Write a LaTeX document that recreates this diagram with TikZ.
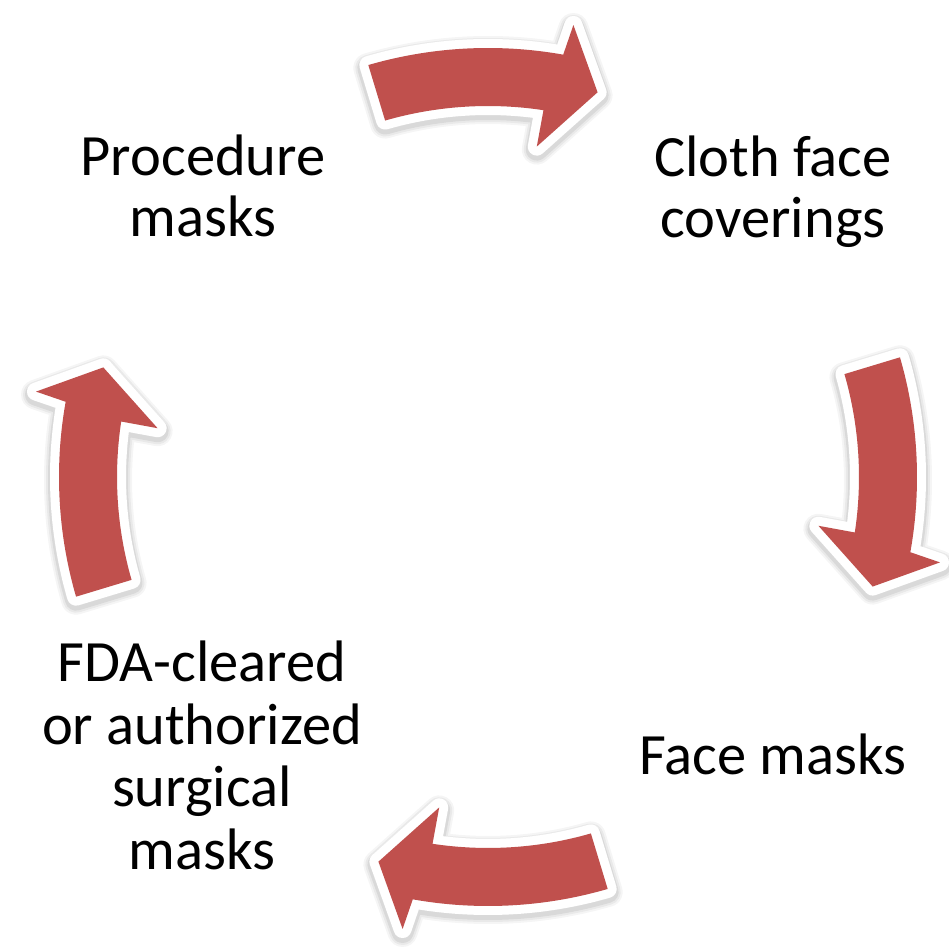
\documentclass[tikz,border=0pt]{standalone}
\usepackage{fontspec}
\setmainfont{Carlito}
\definecolor{arrowred}{HTML}{C0504D}
% centred lines with a given baseline distance; the box's baseline is the first line's
\newcommand\stacklines[2][61pt]{\vtop{\baselineskip=#1\lineskiplimit=0pt
  \halign{\hfil##\hfil\cr#2\crcr}}}
\tikzset{
  % one curved arrow of the cycle, in polar coordinates about the centre
  arrowshape/.style={insert path={
    (106.2:429) arc[start angle=106.2, end angle=79.9, radius=429]
    -- (79.3:460) -- (74.1:400) -- (81.6:334) -- (81.4:371)
    arc[start angle=81.4, end angle=106.1, radius=371] -- cycle}},
  arrowshadow/.style={draw=black, line join=round},
  arrowrim/.style={draw=white, line width=18, line join=round},
  arrowbody/.style={fill=arrowred},
  cyclelabel/.style={font=\fontsize{58.5}{61}\selectfont, anchor=base,
    inner sep=0, text=black},
}
\begin{document}
\begin{tikzpicture}[x=1pt, y=1pt]
\useasboundingbox (0,0) rectangle (949,950);
\coordinate (c) at (488,473);

% four arrows, each a quarter turn clockwise from the last
\foreach \r in {0,-90,-180,-270} {
  \begin{scope}[shift={(c)}, yshift=-3, rotate=\r]
    \foreach \w/\o in {30/0.04, 26/0.05, 22/0.07}
      \path[arrowshadow, line width=\w, opacity=\o, arrowshape];
  \end{scope}
  \begin{scope}[shift={(c)}, rotate=\r]
    \path[arrowrim, arrowshape];
    \path[arrowbody, arrowshape];
  \end{scope}
}

% labels between the arrows
\node[cyclelabel] (proc) at (203,774) {\stacklines{Procedure\cr masks}};
\node[cyclelabel] (cloth) at (773,773) {\stacklines{Cloth face\cr coverings}};
\node[cyclelabel] (face) at (773,175) {Face masks};
\node[cyclelabel] (fda) at (202,268)
  {\stacklines[62.5pt]{FDA-cleared\cr or authorized\cr surgical\cr masks}};
\end{tikzpicture}
\end{document}
